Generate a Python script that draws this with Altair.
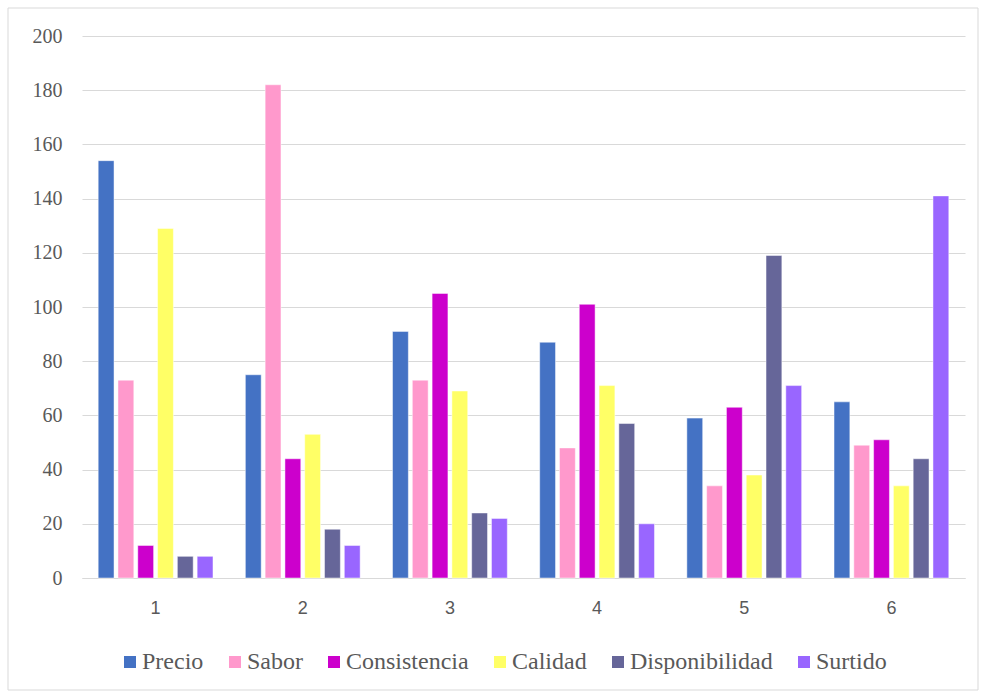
import altair as alt
import pandas as pd

categories = ["1", "2", "3", "4", "5", "6"]
series = ["Precio", "Sabor", "Consistencia", "Calidad", "Disponibilidad", "Surtido"]
colors = ["#4472C4", "#FF99CC", "#CC00CC", "#FFFF66", "#666699", "#9966FF"]
precio = [154, 75, 91, 87, 59, 65]
sabor = [73, 182, 73, 48, 34, 49]
consistencia = [12, 44, 105, 101, 63, 51]
calidad = [129, 53, 69, 71, 38, 34]
disponibilidad = [8, 18, 24, 57, 119, 44]
surtido = [8, 12, 22, 20, 71, 141]

values = [precio, sabor, consistencia, calidad, disponibilidad, surtido]
rows = []
for s, vals in zip(series, values):
    for c, v in zip(categories, vals):
        rows.append({"cat": c, "serie": s, "valor": v})
df = pd.DataFrame(rows)

font = "Liberation Serif"
txt = "#595959"

bars = alt.Chart(df).mark_bar(stroke="white", strokeWidth=0.8, strokeOpacity=0.6).encode(
    x=alt.X("cat:N", sort=categories, title=None,
            scale=alt.Scale(paddingInner=0.22, paddingOuter=0.11),
            axis=alt.Axis(labelAngle=0, ticks=False, domainColor="#D9D9D9",
                          labelPadding=21, labelFontSize=18, labelColor=txt,
                          labelFont="Liberation Sans", grid=False)),
    xOffset=alt.XOffset("serie:N", sort=series,
                        scale=alt.Scale(paddingInner=0.2, paddingOuter=0)),
    y=alt.Y("valor:Q", title=None,
            scale=alt.Scale(domain=[0, 200]),
            axis=alt.Axis(values=list(range(0, 201, 20)), domain=False, ticks=False,
                          labelPadding=20, labelFontSize=20, labelColor=txt,
                          labelFont=font, gridColor="#D9D9D9", gridWidth=1)),
    color=alt.Color("serie:N", sort=series,
                    scale=alt.Scale(domain=series, range=colors),
                    legend=alt.Legend(orient="none", legendX=36, legendY=614,
                                      direction="horizontal", title=None,
                                      symbolType="square", symbolSize=144,
                                      symbolStrokeWidth=0,
                                      labelFont=font, labelFontSize=24,
                                      labelColor=txt, columnPadding=19,
                                      labelOffset=0)),
)

border = alt.Chart(pd.DataFrame({"a": [0]})).mark_rect(
    fill=None, stroke="#D9D9D9", strokeWidth=1
).encode(x=alt.value(-74), x2=alt.value(896), y=alt.value(-28), y2=alt.value(654))

chart = alt.layer(border, bars).properties(
    width=883, height=542,
    padding={"left": 82, "top": 36, "right": 16, "bottom": 117},
    autosize=alt.AutoSizeParams(type="none"),
    background="white",
).configure_view(stroke=None)

chart.save("out.html", embed_options={"renderer": "svg", "actions": False})
